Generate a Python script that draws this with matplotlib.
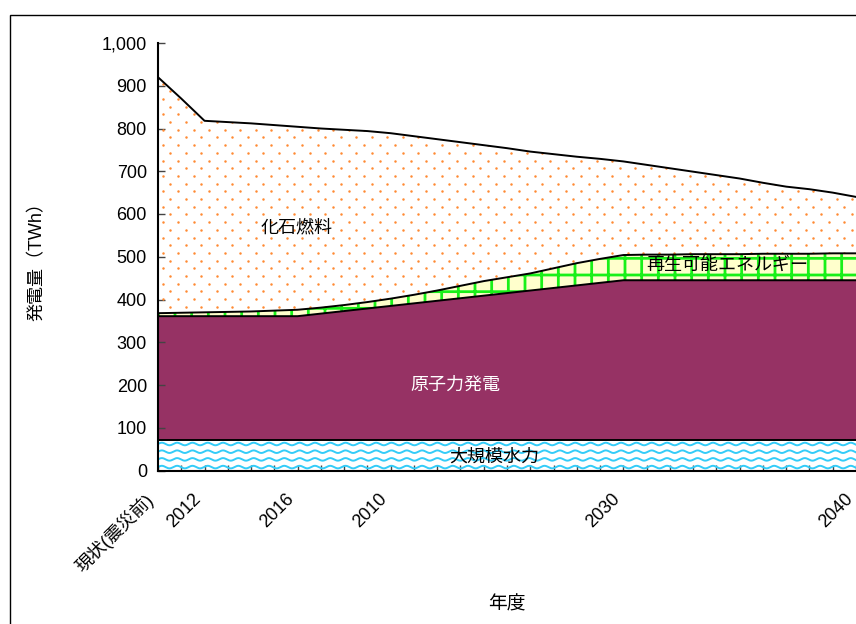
import numpy as np
import matplotlib
matplotlib.use("Agg")
import matplotlib.pyplot as plt
from matplotlib.patches import Rectangle

plt.rcParams['font.family'] = ['Liberation Sans', 'Noto Sans CJK JP']
plt.rcParams['hatch.linewidth'] = 2.0

# 現状(震災前), 2011 ... 2040
categories = ['現状(震災前)'] + [str(y) for y in range(2011, 2041)]
tick_labels = {0: '現状(震災前)', 2: '2012', 6: '2016', 10: '2010', 20: '2030', 30: '2040'}

# TWh
hydro = [72] * 31
nuclear = [289, 289, 289, 289, 289, 289, 289, 295, 301, 307, 313, 319, 325, 331, 337, 343,
           349, 355, 361, 367, 373, 373, 373, 373, 373, 373, 373, 373, 373, 373, 373]
renewable = [7, 8, 9, 10, 11, 13, 15, 14, 14, 15, 17, 20, 24, 29, 34, 37,
             40, 46, 52, 56, 59, 60, 60, 61, 61, 61, 62, 62, 62, 63, 63]
total = [920, 870, 818, 815, 812, 808, 804, 800, 797, 794, 789, 782, 775, 768, 761, 754,
         746, 740, 734, 729, 723, 715, 707, 699, 691, 683, 673, 664, 658, 650, 640]

x = np.arange(len(categories))
hydro = np.array(hydro, float)
nuc_top = hydro + np.array(nuclear, float)
ren_top = nuc_top + np.array(renewable, float)
fossil = np.array(total, float) - ren_top
fos_top = ren_top + fossil

fig = plt.figure(figsize=(8.56, 6.24), dpi=100)
ax = fig.add_axes([158 / 856, 1 - 470.5 / 624, 1 - 158 / 856, (470.5 - 43) / 624])

# 大規模水力: white with wavy cyan lines
hyd = ax.fill_between(x, 0, hydro, facecolor='white', linewidth=0)
xs = np.linspace(0, 30, 3000)
for base in (62, 44, 26, 8):
    wave, = ax.plot(xs, base + 3.0 * np.sin(2 * np.pi * xs / 0.658),
                    color='#33CCF8', lw=1.4)
    wave.set_clip_path(hyd.get_paths()[0], ax.transData)

# 原子力発電
ax.fill_between(x, hydro, nuc_top, facecolor='#963264', linewidth=0)

# 再生可能エネルギー: pale yellow with green grid
ax.fill_between(x, nuc_top, ren_top, facecolor='#FFFFCC', edgecolor='#19F019',
                hatch='+', linewidth=0)

# 化石燃料: white with orange dots
fos = ax.fill_between(x, ren_top, fos_top, facecolor='white', linewidth=0)
dx, dy = 0.666, 18.0
pts = []
for i, yy in enumerate(np.arange(5, 1000, dy)):
    off = 0.2 + (dx / 2 if i % 2 else 0)
    for xx in np.arange(off, 30.5, dx):
        pts.append((xx, yy))
pts = np.array(pts)
dots = ax.scatter(pts[:, 0], pts[:, 1], s=3.2, color='#FF8A33', linewidths=0, zorder=2)
dots.set_clip_path(fos.get_paths()[0], ax.transData)

# layer outlines
for top in (hydro, nuc_top, ren_top, fos_top):
    ax.plot(x, top, color='black', lw=1.4, zorder=3)

ax.text(5.97, 567, '化石燃料', ha='center', va='center', fontsize=13, zorder=4)
ax.text(24.45, 481, '再生可能エネルギー', ha='center', va='center', fontsize=13, zorder=4)
ax.text(12.8, 200, '原子力発電', ha='center', va='center', fontsize=13, color='white', zorder=4)
ax.text(14.44, 32, '大規模水力', ha='center', va='center', fontsize=13, zorder=4)

ax.set_xlim(0, 30)
ax.set_ylim(0, 1000)
ax.set_yticks(np.arange(0, 1001, 100))
ax.set_yticklabels([f'{v:,}' for v in range(0, 1001, 100)], fontsize=13)
ax.set_xticks(x)
ax.set_xticklabels([tick_labels.get(i, '') for i in x], rotation=45, ha='right',
                   va='top', rotation_mode='default', fontsize=13)
ax.tick_params(axis='y', direction='in', length=5, width=1, color='#444444', pad=8)
ax.tick_params(axis='x', direction='in', length=4, width=1, color='#444444', pad=14)
for s in ('top', 'right'):
    ax.spines[s].set_visible(False)
for s in ('left', 'bottom'):
    ax.spines[s].set_linewidth(1.5)
    ax.spines[s].set_zorder(5)

ax.set_ylabel('発電量（TWh）', fontsize=13)
ax.yaxis.set_label_coords(-(158 - 46) / 698, 0.5)
ax.set_xlabel('年度', fontsize=13.5)
ax.xaxis.set_label_coords(0.5, -(596 - 470.5) / 427.5)

# outer frame
y0 = -0.2
fig.add_artist(Rectangle((10 / 856, y0), 1.2, (1 - 15 / 624) - y0, transform=fig.transFigure,
                         fill=False, edgecolor='black', lw=1.0, clip_on=False))

fig.savefig('out.png', dpi=100)
